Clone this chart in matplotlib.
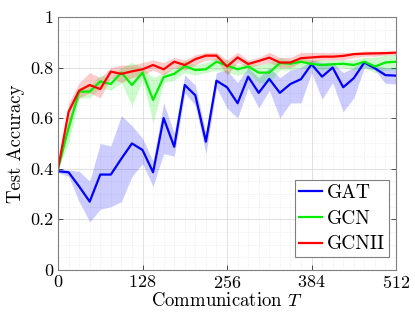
import numpy as np
import matplotlib
matplotlib.use("Agg")
import matplotlib.pyplot as plt
from matplotlib.ticker import MultipleLocator

# Data

T = list(range(0, 513, 16))

gat_mean = [0.390, 0.386, 0.330, 0.270, 0.377, 0.377, 0.440, 0.500, 0.474, 0.386,
            0.600, 0.487, 0.731, 0.690, 0.507, 0.748, 0.722, 0.659, 0.764, 0.700,
            0.755, 0.700, 0.735, 0.754, 0.813, 0.764, 0.800, 0.722, 0.758, 0.820,
            0.797, 0.770, 0.768]
gat_low = [0.385, 0.370, 0.270, 0.190, 0.240, 0.250, 0.270, 0.370, 0.420, 0.330,
           0.460, 0.450, 0.700, 0.650, 0.460, 0.720, 0.640, 0.600, 0.720, 0.640,
           0.710, 0.600, 0.660, 0.660, 0.780, 0.675, 0.740, 0.625, 0.680, 0.800,
           0.790, 0.737, 0.735]
gat_high = [0.400, 0.395, 0.390, 0.350, 0.500, 0.490, 0.610, 0.570, 0.520, 0.430,
            0.660, 0.540, 0.770, 0.730, 0.540, 0.780, 0.790, 0.740, 0.800, 0.760,
            0.800, 0.760, 0.790, 0.800, 0.830, 0.820, 0.820, 0.780, 0.800, 0.830,
            0.810, 0.800, 0.800]

gcn_mean = [0.400, 0.560, 0.705, 0.705, 0.745, 0.735, 0.780, 0.731, 0.780, 0.672,
            0.762, 0.775, 0.806, 0.790, 0.793, 0.823, 0.808, 0.793, 0.804, 0.780,
            0.780, 0.818, 0.815, 0.823, 0.814, 0.810, 0.813, 0.815, 0.810, 0.823,
            0.804, 0.820, 0.823]
gcn_low = [0.400, 0.500, 0.680, 0.680, 0.720, 0.710, 0.740, 0.650, 0.750, 0.580,
           0.740, 0.750, 0.780, 0.770, 0.780, 0.790, 0.780, 0.770, 0.780, 0.740,
           0.740, 0.790, 0.790, 0.800, 0.800, 0.790, 0.800, 0.800, 0.790, 0.800,
           0.780, 0.790, 0.790]
gcn_high = [0.400, 0.600, 0.720, 0.730, 0.770, 0.760, 0.800, 0.820, 0.800, 0.760,
            0.780, 0.800, 0.830, 0.810, 0.820, 0.840, 0.830, 0.810, 0.820, 0.810,
            0.820, 0.840, 0.830, 0.840, 0.830, 0.830, 0.830, 0.830, 0.830, 0.840,
            0.840, 0.850, 0.850]

gcnii_mean = [0.400, 0.625, 0.709, 0.731, 0.715, 0.784, 0.775, 0.785, 0.793, 0.810,
              0.793, 0.823, 0.810, 0.833, 0.847, 0.847, 0.804, 0.840, 0.814, 0.826,
              0.839, 0.820, 0.820, 0.837, 0.840, 0.843, 0.843, 0.846, 0.853, 0.855,
              0.856, 0.857, 0.859]
gcnii_low = [0.400, 0.580, 0.680, 0.700, 0.680, 0.760, 0.740, 0.760, 0.770, 0.790,
             0.770, 0.800, 0.790, 0.810, 0.830, 0.830, 0.770, 0.820, 0.800, 0.810,
             0.820, 0.800, 0.800, 0.820, 0.820, 0.830, 0.830, 0.830, 0.840, 0.845,
             0.845, 0.850, 0.850]
gcnii_high = [0.400, 0.660, 0.740, 0.780, 0.760, 0.800, 0.810, 0.810, 0.820, 0.830,
              0.820, 0.840, 0.830, 0.850, 0.860, 0.860, 0.830, 0.860, 0.830, 0.840,
              0.860, 0.840, 0.840, 0.860, 0.860, 0.860, 0.860, 0.860, 0.860, 0.865,
              0.865, 0.865, 0.865]

x_ticks = [0, 128, 256, 384, 512]
y_ticks = [0, 0.2, 0.4, 0.6, 0.8, 1.0]
y_tick_labels = ["0", "0.2", "0.4", "0.6", "0.8", "1"]

plt.rcParams["font.family"] = "cmr10"
plt.rcParams["mathtext.fontset"] = "cm"
plt.rcParams["axes.formatter.use_mathtext"] = True

fig = plt.figure(figsize=(4.15, 3.26), dpi=100)
ax = fig.add_axes([0.1398, 0.172, 0.8145, 0.776])

series = [
    ("GAT", gat_mean, gat_low, gat_high, "#0000ff"),
    ("GCN", gcn_mean, gcn_low, gcn_high, "#00ee00"),
    ("GCNII", gcnii_mean, gcnii_low, gcnii_high, "#ff0000"),
]

for name, m, lo, hi, c in series:
    ax.fill_between(T, lo, hi, color=c, alpha=0.2, linewidth=0)
for name, m, lo, hi, c in series:
    ax.plot(T, m, color=c, linewidth=1.6, label=name)

ax.set_xlim(0, 512)
ax.set_ylim(0, 1)
ax.set_xticks(x_ticks)
ax.set_yticks(y_ticks)
ax.set_yticklabels(y_tick_labels)
ax.xaxis.set_minor_locator(MultipleLocator(16))
ax.yaxis.set_minor_locator(MultipleLocator(0.05))

ax.grid(True, which="major", color="#dcdcdc", linewidth=0.6)
ax.grid(True, which="minor", color="#e4e4e4", linewidth=0.5, linestyle=":")
ax.set_axisbelow(True)

ax.tick_params(which="major", direction="in", length=3.5, width=0.6,
               top=True, right=True, labelsize=13, color="#333333", pad=3)
ax.tick_params(which="minor", length=0)
for s in ax.spines.values():
    s.set_color("#7f7f7f")
    s.set_linewidth(0.8)

ax.set_xlabel("Communication $T$", fontsize=13.5, labelpad=1)
ax.set_ylabel("Test Accuracy", fontsize=13.5, labelpad=4)

leg = ax.legend(loc="lower right", bbox_to_anchor=(0.979, 0.05), borderaxespad=0,
                fontsize=14, fancybox=False, framealpha=1,
                edgecolor="#7f7f7f", handlelength=1.2, handletextpad=0.25,
                labelspacing=0.4, borderpad=0.2)
leg.get_frame().set_linewidth(0.8)

fig.savefig("out.png", dpi=100)
